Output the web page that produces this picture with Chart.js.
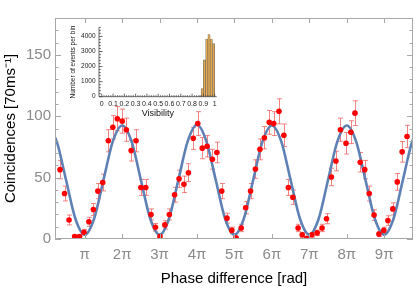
<!DOCTYPE html>
<html>
<head>
<meta charset="utf-8">
<script src="https://cdn.jsdelivr.net/npm/chart.js@4.4.1/dist/chart.umd.min.js"></script>
<style>
  body { margin: 0; background: #fff; }
  #wrap { position: relative; width: 417px; height: 288px; }
  #main { position: absolute; left: 0; top: 0; }
  #inset { position: absolute; left: 66px; top: 20px; }
</style>
</head>
<body>
<div id="wrap">
  <canvas id="main" width="417" height="288"></canvas>
  <canvas id="inset" width="160" height="102"></canvas>
</div>
<script>
// measured coincidences, phase in units of pi
const phase = [0.34, 0.46, 0.58, 0.73, 0.86, 0.98, 1.11, 1.23, 1.35, 1.48, 1.63, 1.75, 1.87, 2.00, 2.11, 2.24, 2.37, 2.50, 2.63, 2.77,
  2.89, 3.01, 3.14, 3.26, 3.40, 3.52, 3.65, 3.77, 3.90, 4.02, 4.14, 4.27, 4.41, 4.53, 4.66, 4.80, 4.93, 5.04, 5.18, 5.30,
  5.43, 5.56, 5.68, 5.80, 5.93, 6.05, 6.19, 6.32, 6.44, 6.56, 6.70, 6.81, 6.93, 7.07, 7.21, 7.34, 7.46, 7.59, 7.71, 7.83,
  7.98, 8.11, 8.22, 8.36, 8.48, 8.60, 8.73, 8.86, 8.99, 9.10, 9.23, 9.35, 9.48, 9.61];
const counts = [56.5, 37, 15.5, 2, 2, 5.5, 14, 24, 39, 46, 80, 91, 98, 96, 89, 72, 80, 42, 42, 20,
  9.5, 2, 11.5, 20, 36, 49, 44.5, 54, 82, 94, 74, 75.5, 65, 70.5, 39, 17, 7, 1, 9, 25.5,
  39, 57, 73, 82.5, 95, 94, 104, 84.5, 42, 34, 9, 3.5, 0.5, 3.5, 5, 9, 16.5, 50.5, 63.5, 89,
  78, 87, 102.5, 62.5, 56.5, 37, 19.5, 4, 7, 15, 24.5, 46.5, 71, 83.5];
const errors = [7.5, 6, 4, 1.5, 1.5, 2.3, 3.7, 4.9, 6.2, 6.8, 9, 9.5, 9.9, 9.8, 9.4, 8.5, 9, 6.5, 6.5, 4.5,
  3.1, 1.4, 3.4, 4.5, 6, 7, 6.7, 7.3, 9, 9.7, 8.6, 8.7, 8.1, 8.4, 6.2, 4.1, 2.6, 1, 3, 5,
  6.2, 7.5, 8.5, 9.1, 9.7, 9.7, 10.2, 9.2, 6.5, 5.8, 3, 1.9, 1, 1.9, 2.2, 3, 4.1, 7.1, 8, 9.4,
  8.8, 9.3, 10.1, 7.9, 7.5, 6.1, 4.4, 2, 2.6, 3.9, 4.9, 6.8, 8.4, 9.1];

// fitted fringe, read every quarter pi
const fitPhase = [0, 0.25, 0.5, 0.75, 1, 1.25, 1.5, 1.75, 2, 2.25, 2.5, 2.75, 3, 3.25, 3.5, 3.75, 4, 4.25, 4.5, 4.75,
  5, 5.25, 5.5, 5.75, 6, 6.25, 6.5, 6.75, 7, 7.25, 7.5, 7.75, 8, 8.25, 8.5, 8.75, 9, 9.25, 9.5, 9.75, 10];
const fitCounts = [92.5, 79.5, 48, 16.5, 3.5, 16.5, 48, 79.5, 92.5, 79.5, 48, 16.5, 3.5, 16.5, 48, 79.5, 93, 79.5, 48, 16.5,
  3.5, 16.5, 48, 79.5, 92.5, 79.5, 48, 16.5, 3.5, 16.5, 48, 79.5, 92.5, 79.5, 48, 16.5, 3.5, 16.5, 48, 79.5, 92.5];

const xTicks = [1, 2, 3, 4, 5, 6, 7, 8, 9];
const xTickLabels = ['π', '2π', '3π', '4π', '5π', '6π', '7π', '8π', '9π'];
const yTicks = [0, 50, 100, 150];

// inset histogram of visibility
const binCenters = [0.87, 0.89, 0.91, 0.93, 0.95, 0.97, 0.99];
const binCounts = [60, 540, 2450, 3830, 4130, 3830, 3520];
const insetXTicks = [0, 0.1, 0.2, 0.3, 0.4, 0.5, 0.6, 0.7, 0.8, 0.9, 1];
const insetXLabels = ['0', '0.1', '0.2', '0.3', '0.4', '0.5', '0.6', '0.7', '0.8', '0.9', '1'];
const insetYTicks = [0, 1000, 2000, 3000, 4000];

const FONT = "'Liberation Sans', Arial, sans-serif";
const GREY = '#8a8a8a';

const errorBars = {
  id: 'errorBars',
  beforeDatasetsDraw(chart) {
    const { ctx, chartArea: a, scales: { x, y } } = chart;
    ctx.save();
    ctx.beginPath();
    ctx.rect(a.left, a.top, a.right - a.left, a.bottom - a.top);
    ctx.clip();
    ctx.strokeStyle = 'rgba(238, 80, 80, 0.7)';
    ctx.lineWidth = 1;
    phase.forEach((p, i) => {
      const px = Math.round(x.getPixelForValue(p)) + 0.5;
      const hi = y.getPixelForValue(counts[i] + errors[i]);
      const lo = y.getPixelForValue(counts[i] - errors[i]);
      ctx.beginPath();
      ctx.moveTo(px, hi); ctx.lineTo(px, lo);
      ctx.moveTo(px - 2.5, hi); ctx.lineTo(px + 2.5, hi);
      ctx.moveTo(px - 2.5, lo); ctx.lineTo(px + 2.5, lo);
      ctx.stroke();
    });
    ctx.restore();
  }
};

const frame = {
  id: 'frame',
  afterDraw(chart) {
    const { ctx, chartArea: a, scales: { x, y } } = chart;
    ctx.save();
    ctx.strokeStyle = '#a8a8a8';
    ctx.lineWidth = 1;
    ctx.strokeRect(a.left + 0.5, a.top + 0.5, a.right - a.left - 1, a.bottom - a.top - 1);
    ctx.beginPath();
    for (let v = 0; v <= 180; v += 10) {
      const py = Math.round(y.getPixelForValue(v)) + 0.5;
      const len = v % 50 === 0 ? 6 : 3.5;
      ctx.moveTo(a.left, py); ctx.lineTo(a.left + len, py);
      ctx.moveTo(a.right, py); ctx.lineTo(a.right - len, py);
    }
    xTicks.forEach(v => {
      const px = Math.round(x.getPixelForValue(v)) + 0.5;
      ctx.moveTo(px, a.bottom); ctx.lineTo(px, a.bottom - 5);
      ctx.moveTo(px, a.top); ctx.lineTo(px, a.top + 5);
    });
    ctx.stroke();
    ctx.restore();
  }
};

const insetAxes = {
  id: 'insetAxes',
  afterDraw(chart) {
    const { ctx, chartArea: a, scales: { x, y } } = chart;
    ctx.save();
    ctx.strokeStyle = '#444';
    ctx.lineWidth = 0.8;
    ctx.beginPath();
    ctx.moveTo(a.left, a.top); ctx.lineTo(a.left, a.bottom); ctx.lineTo(a.right, a.bottom);
    for (let v = 0; v <= 4600; v += 200) {
      const py = y.getPixelForValue(v);
      const len = v % 1000 === 0 ? 3.5 : 1.8;
      ctx.moveTo(a.left, py); ctx.lineTo(a.left + len, py);
    }
    for (let v = 0; v <= 1.001; v += 0.02) {
      const px = x.getPixelForValue(v);
      const len = Math.round(v * 50) % 5 === 0 ? 3 : 1.5;
      ctx.moveTo(px, a.bottom); ctx.lineTo(px, a.bottom - len);
    }
    ctx.stroke();
    ctx.restore();
  }
};

new Chart(document.getElementById('main'), {
  type: 'scatter',
  data: {
    datasets: [
      {
        type: 'line',
        data: fitPhase.map((p, i) => ({ x: p, y: fitCounts[i] })),
        borderColor: '#5e81b5',
        borderWidth: 2.6,
        pointRadius: 0,
        cubicInterpolationMode: 'monotone',
        order: 2,
      },
      {
        data: phase.map((p, i) => ({ x: p, y: counts[i] })),
        backgroundColor: '#ff0000',
        borderWidth: 0,
        pointRadius: 2.8,
        order: 1,
      },
    ],
  },
  options: {
    responsive: false,
    animation: false,
    layout: { padding: { top: 18, right: 1, left: 0, bottom: 0 } },
    plugins: { legend: { display: false }, tooltip: { enabled: false } },
    scales: {
      x: {
        type: 'linear', min: 0.205, max: 9.77,
        afterBuildTicks: s => { s.ticks = xTicks.map(v => ({ value: v })); },
        afterFit: s => { s.height = 49; },
        ticks: { callback: (v, i) => xTickLabels[i], color: GREY, font: { family: FONT, size: 15 }, padding: 7, autoSkip: false, maxRotation: 0 },
        grid: { display: false, drawTicks: false },
        border: { display: false },
        title: { display: true, text: 'Phase difference [rad]', color: '#000', font: { family: FONT, size: 15 }, padding: { top: 0, bottom: 0 } },
      },
      y: {
        min: 0, max: 180,
        afterBuildTicks: s => { s.ticks = yTicks.map(v => ({ value: v })); },
        afterFit: s => { s.width = 55; },
        ticks: { callback: v => String(v), color: GREY, font: { family: FONT, size: 15 }, padding: 4 },
        grid: { display: false, drawTicks: false },
        border: { display: false },
        title: { display: true, text: 'Coincidences [70ms⁻¹]', color: '#000', font: { family: FONT, size: 15 }, padding: { top: 2, bottom: 0 } },
      },
    },
  },
  plugins: [errorBars, frame],
});

new Chart(document.getElementById('inset'), {
  type: 'bar',
  data: {
    datasets: [{
      data: binCenters.map((c, i) => ({ x: c, y: binCounts[i] })),
      backgroundColor: '#e3a84f',
      borderColor: '#7d725f',
      borderWidth: 0.7,
      barPercentage: 1,
      categoryPercentage: 1,
    }],
  },
  options: {
    responsive: false,
    animation: false,
    layout: { padding: { top: 5, right: 9.3, left: 0, bottom: 0 } },
    plugins: { legend: { display: false }, tooltip: { enabled: false } },
    scales: {
      x: {
        type: 'linear', min: -0.024, max: 1.018, offset: false,
        afterBuildTicks: s => { s.ticks = insetXTicks.map(v => ({ value: v })); },
        afterFit: s => { s.height = 25.3; },
        ticks: { callback: (v, i) => insetXLabels[i], color: '#222', font: { family: FONT, size: 7 }, padding: 3, autoSkip: false, maxRotation: 0 },
        grid: { display: false, drawTicks: false },
        border: { display: false },
        title: { display: true, text: 'Visibility', color: '#111', font: { family: FONT, size: 9 }, padding: { top: 0, bottom: 2.6 } },
      },
      y: {
        min: 0, max: 4600,
        afterBuildTicks: s => { s.ticks = insetYTicks.map(v => ({ value: v })); },
        afterFit: s => { s.width = 33; },
        ticks: { callback: v => String(v), color: '#222', font: { family: FONT, size: 6.5 }, padding: 3.5 },
        grid: { display: false, drawTicks: false },
        border: { display: false },
        title: { display: true, text: 'Number of events per bin', color: '#111', font: { family: FONT, size: 6.5 }, padding: { top: 3.4, bottom: 0 } },
      },
    },
  },
  plugins: [insetAxes],
});
</script>
</body>
</html>
